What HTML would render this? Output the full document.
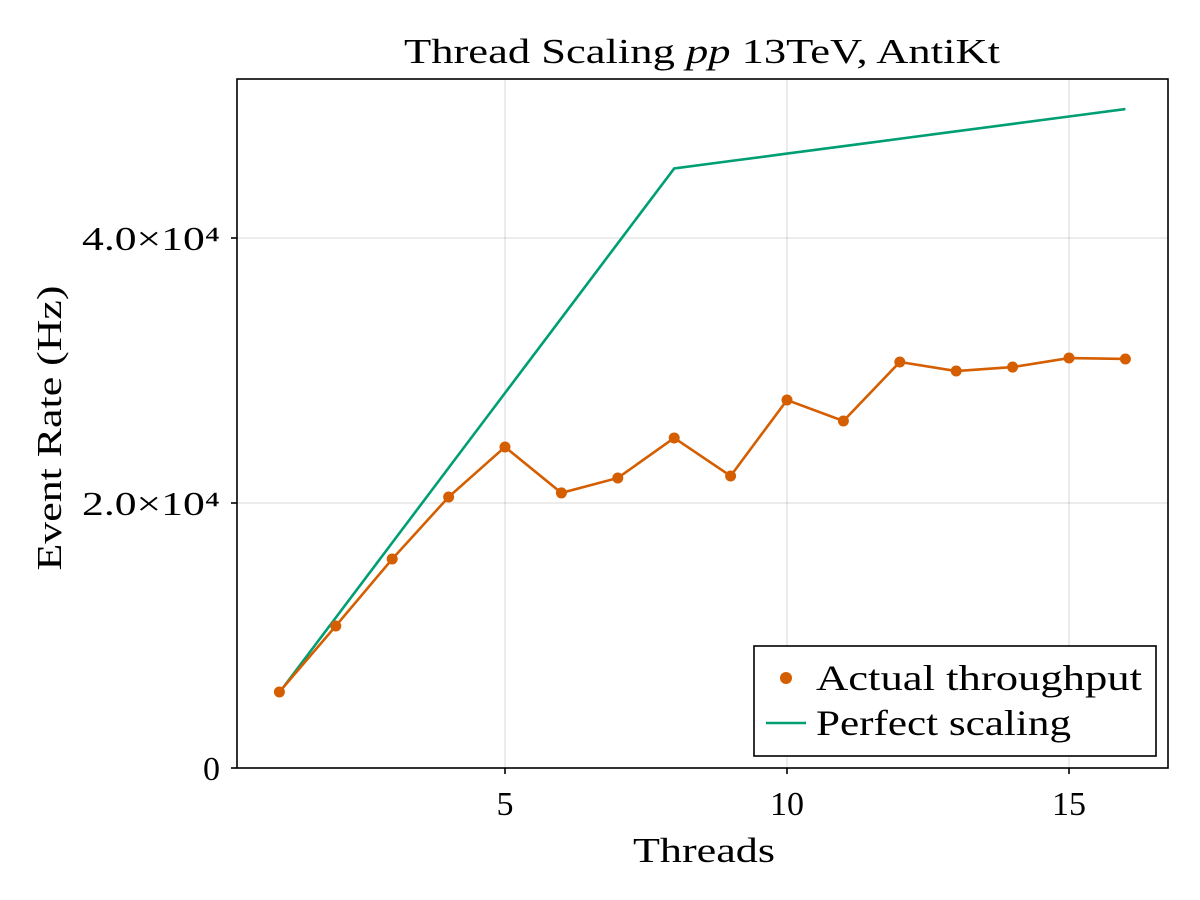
<!DOCTYPE html>
<html><head><meta charset="utf-8">
<style>
html,body{margin:0;padding:0;background:#fff;}
svg{display:block;font-family:"Liberation Serif",serif;}
</style></head>
<body>
<svg id="chart" width="1200" height="900" viewBox="0 0 1200 900"></svg>
<script>
const threads = [1,2,3,4,5,6,7,8,9,10,11,12,13,14,15,16];
const actual = [5740,10720,15770,20450,24230,20760,21890,24910,22040,27770,26190,30640,29960,30260,30940,30870];
const perfect = [5700,11350,17000,22650,28300,33950,39600,45250,45810,46370,46930,47490,48050,48610,49170,49730];
const xTicks = [5,10,15];
const xTickLabels = ["5","10","15"];
const yTicks = [0,20000,40000];
const yTickLabels = ["0","2.0×10⁴","4.0×10⁴"];

const NS="http://www.w3.org/2000/svg";
const svg=document.getElementById('chart');
const L=237,R=1168,T=79,B=768;
function sx(v){return 505+(v-5)*56.4;}
function sy(v){return 768-v*(265/20000);}
function mk(tag,attrs,parent){const e=document.createElementNS(NS,tag);for(const k in attrs)e.setAttribute(k,attrs[k]);(parent||svg).appendChild(e);return e;}

xTicks.forEach((t,i)=>{
  const g=mk('line',{x1:sx(t),x2:sx(t),y1:T,y2:B,stroke:'#000','stroke-opacity':0.12,'stroke-width':1.2});
  
  
});
yTicks.forEach((t,i)=>{
  const g=mk('line',{x1:L,x2:R,y1:sy(t),y2:sy(t),stroke:'#000','stroke-opacity':0.12,'stroke-width':1.2});
  
  
});
const fr=mk('rect',{x:L,y:T,width:R-L,height:B-T,fill:'none',stroke:'#000','stroke-width':1.6});


xTicks.forEach((t,i)=>{
  const tk=mk('line',{x1:sx(t),x2:sx(t),y1:B,y2:B+6,stroke:'#000','stroke-width':1.6});
  
  
  const tx=mk('text',{x:sx(t),y:B+47,'font-size':34,'text-anchor':'middle'});
  tx.textContent=xTickLabels[i];
  
  
});
yTicks.forEach((t,i)=>{
  const tk=mk('line',{x1:L-6,x2:L,y1:sy(t),y2:sy(t),stroke:'#000','stroke-width':1.6});
  
  
  const attrs={x:L-17,y:sy(t)+12,'font-size':34,'text-anchor':'end'};
  if(yTickLabels[i].length>2){attrs.textLength=138;attrs.lengthAdjust='spacingAndGlyphs';}
  const tx=mk('text',attrs);
  tx.textContent=yTickLabels[i];
  
  
});
const ti=mk('text',{x:702,y:63,'font-size':35,'text-anchor':'middle',textLength:596,lengthAdjust:'spacingAndGlyphs'});
ti.innerHTML='Thread Scaling <tspan font-style="italic">pp</tspan> 13TeV, AntiKt';


const xt=mk('text',{x:704,y:862,'font-size':35,'text-anchor':'middle',textLength:142,lengthAdjust:'spacingAndGlyphs'});
xt.textContent='Threads';


const yt=mk('text',{x:0,y:0,'font-size':35,'text-anchor':'middle',transform:'translate(61,428) rotate(-90)',textLength:285,lengthAdjust:'spacingAndGlyphs'});
yt.textContent='Event Rate (Hz)';


const pp=mk('polyline',{points:threads.map((t,i)=>sx(t)+','+sy(perfect[i])).join(' '),fill:'none',stroke:'#009e73','stroke-width':2.6});


const ap=mk('polyline',{points:threads.map((t,i)=>sx(t)+','+sy(actual[i])).join(' '),fill:'none',stroke:'#d55e00','stroke-width':2.6});


threads.forEach((t,i)=>{
  const c=mk('circle',{cx:sx(t),cy:sy(actual[i]),r:5.5,fill:'#d55e00'});
  
  
});
const lg=mk('g',{});


mk('rect',{x:754,y:646,width:402,height:110,fill:'#fff',stroke:'#000','stroke-width':1.6},lg);
const lc=mk('circle',{cx:786,cy:678,r:6,fill:'#d55e00'},lg);


const l1=mk('text',{x:816,y:690,'font-size':36,textLength:326,lengthAdjust:'spacingAndGlyphs'},lg);
l1.textContent='Actual throughput';


const ll=mk('line',{x1:766,x2:806,y1:723,y2:723,stroke:'#009e73','stroke-width':2.6},lg);


const l2=mk('text',{x:816,y:735,'font-size':36,textLength:255,lengthAdjust:'spacingAndGlyphs'},lg);
l2.textContent='Perfect scaling';


</script>
</body></html>
